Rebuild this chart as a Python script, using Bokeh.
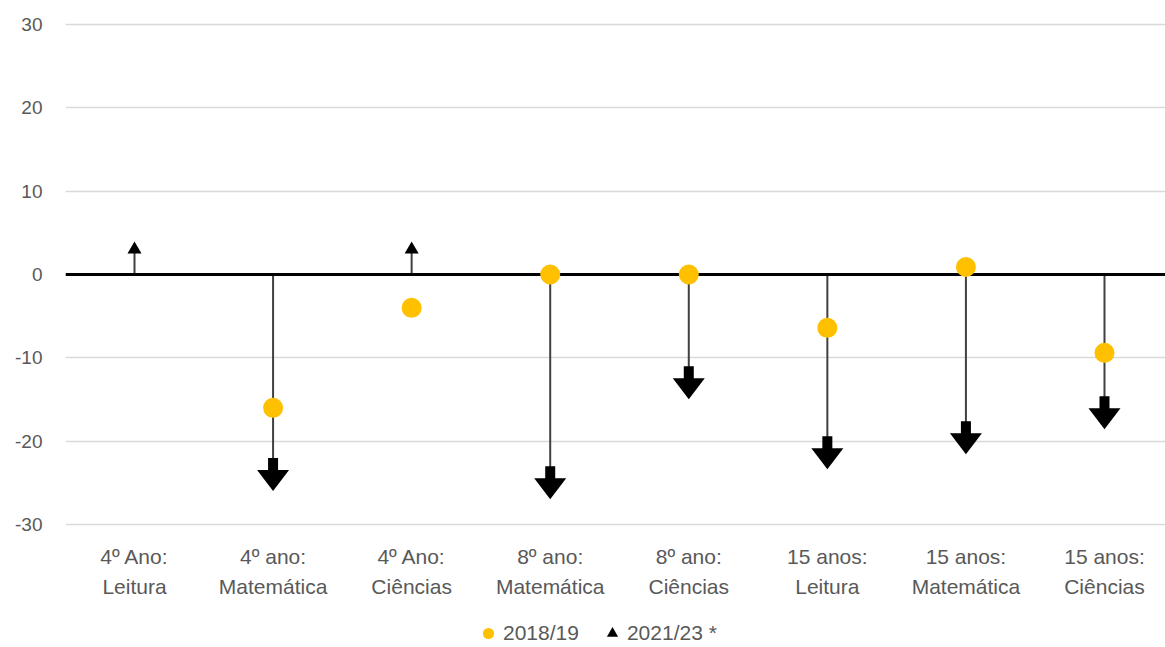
from bokeh.plotting import figure
from bokeh.models import Legend, LegendItem, FixedTicker, Range1d
from bokeh.core.properties import value
from bokeh.embed import file_html
from bokeh.resources import INLINE

# ---------------- data ----------------
categories = [
    "4º Ano:\nLeitura",
    "4º ano:\nMatemática",
    "4º Ano:\nCiências",
    "8º ano:\nMatemática",
    "8º ano:\nCiências",
    "15 anos:\nLeitura",
    "15 anos:\nMatemática",
    "15 anos:\nCiências",
]
series_2018 = [float("nan"), -16.0, -4.0, 0.0, 0.0, -6.4, 0.9, -9.4]
series_2021 = [3.0, -24.0, 3.0, -25.0, -13.0, -21.4, -19.6, -16.6]
y_ticks = [-30, -20, -10, 0, 10, 20, 30]
legend_labels = ["2018/19", "2021/23 *"]

# ---------------- layout ----------------
W, H = 1165, 647
BL, BT = 65, 14
FRAME_W = W - BL
FRAME_H = H - BT
PX_X = 138.57            # pixels per category
PX_Y = 500 / 60          # pixels per y unit
X0 = -69 / PX_X
X1 = X0 + FRAME_W / PX_X
Y1 = 30 + (24 - BT) / PX_Y
Y0 = Y1 - FRAME_H / PX_Y

FONT = "Liberation Sans"
TXT = "#595959"
GOLD = "#FFC000"

p = figure(width=W, height=H, output_backend="svg", toolbar_location=None,
           x_range=Range1d(X0, X1), y_range=Range1d(Y0, Y1),
           min_border_left=BL, min_border_right=0, min_border_top=BT,
           min_border_bottom=0, background_fill_color="white",
           border_fill_color="white")
p.outline_line_color = None

xs = list(range(len(categories)))

# grid
p.xgrid.visible = False
p.ygrid.ticker = FixedTicker(ticks=y_ticks)
p.ygrid.grid_line_color = "#D9D9D9"
p.ygrid.grid_line_width = 1.5

# axes
p.xaxis.visible = False
p.yaxis.ticker = FixedTicker(ticks=y_ticks)
p.yaxis.major_label_overrides = {t: str(t) for t in y_ticks}
p.yaxis.axis_line_color = None
p.yaxis.major_tick_line_color = None
p.yaxis.minor_tick_line_color = None
p.yaxis.major_tick_out = 0
p.yaxis.major_label_standoff = 23
p.yaxis.major_label_text_font = FONT
p.yaxis.major_label_text_font_size = "19px"
p.yaxis.major_label_text_color = TXT

# category labels under the plot area
label_y = -30 - 20 / PX_Y
p.text(x=xs, y=[label_y] * len(xs), text=categories, text_align="center",
       text_baseline="top", text_font=value(FONT), text_font_size="21px",
       text_color=TXT, text_line_height=1.33)

# connector lines from 0 to the 2021/23 value
p.segment(x0=xs, y0=[0] * len(xs), x1=xs, y1=series_2021,
          line_color="#404040", line_width=2)

# zero line
p.hspan(y=[0], line_color="black", line_width=3)

# 2018/19 dots
dots = p.scatter(x=xs, y=series_2018, marker="circle", size=20,
                 fill_color=GOLD, line_color=None)

# 2021/23 up arrows (small triangles)
up_x = [x for x, v in zip(xs, series_2021) if v >= 0]
up_y = [v for v in series_2021 if v >= 0]
tri = p.scatter(x=up_x, y=up_y, marker="triangle", size=14,
                fill_color="black", line_color=None)

# 2021/23 down arrows (block arrows)
px, py = [], []
for x, v in zip(xs, series_2021):
    if v >= 0:
        continue
    sw = 5 / PX_X
    hw = 16 / PX_X
    top = v + 16.5 / PX_Y
    base = v + 4.5 / PX_Y
    tip = v - 16.5 / PX_Y
    px.append([x - sw, x + sw, x + sw, x + hw, x, x - hw, x - sw])
    py.append([top, top, base, base, tip, base, base])
p.patches(xs=px, ys=py, fill_color="black", line_color=None)

legend = Legend(items=[LegendItem(label=legend_labels[0], renderers=[dots]),
                       LegendItem(label=legend_labels[1], renderers=[tri])],
                orientation="horizontal", location=(408, 0),
                border_line_color=None, background_fill_alpha=0,
                label_text_font=FONT, label_text_font_size="21px",
                label_text_color=TXT, glyph_width=30, glyph_height=28,
                label_standoff=0, spacing=18, padding=0, margin=0)
p.add_layout(legend)

open("out.html", "w").write(file_html(p, INLINE))
